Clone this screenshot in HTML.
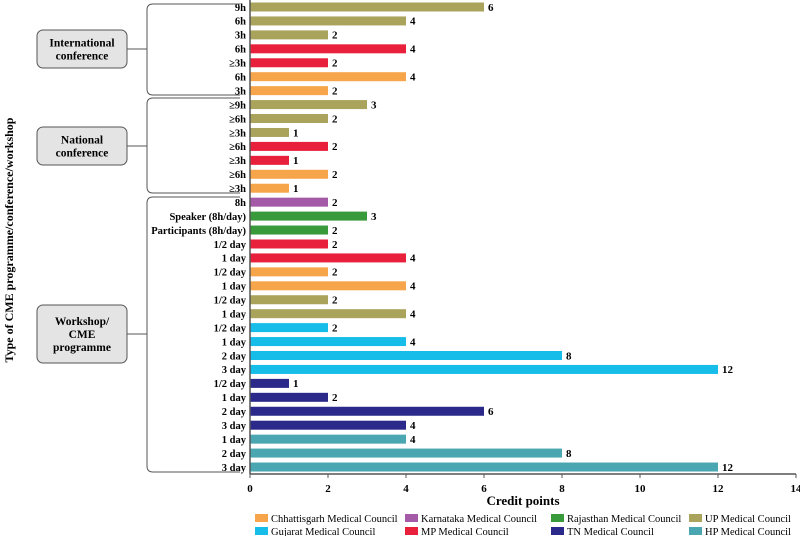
<!DOCTYPE html>
<html><head><meta charset="utf-8">
<style>
body{margin:0;background:#fff;}
svg{display:block;font-family:"Liberation Serif",serif;font-weight:bold;}
</style></head>
<body>
<svg id="chart" width="800" height="536" viewBox="0 0 800 536"></svg>
<script>
const categories=["9h","6h","3h","6h","≥3h","6h","3h","≥9h","≥6h","≥3h","≥6h","≥3h","≥6h","≥3h","8h","Speaker (8h/day)","Participants (8h/day)","1/2 day","1 day","1/2 day","1 day","1/2 day","1 day","1/2 day","1 day","2 day","3 day","1/2 day","1 day","2 day","3 day","1 day","2 day","3 day"];
const values=[6,4,2,4,2,4,2,3,2,1,2,1,2,1,2,3,2,2,4,2,4,2,4,2,4,8,12,1,2,6,4,4,8,12];
const councils=["UP","UP","UP","MP","MP","CH","CH","UP","UP","UP","MP","MP","CH","CH","KA","RJ","RJ","MP","MP","CH","CH","UP","UP","GJ","GJ","GJ","GJ","TN","TN","TN","TN","HP","HP","HP"];
const xTicks=[0,2,4,6,8,10,12,14];
const legendKeys=["CH","KA","RJ","UP","GJ","MP","TN","HP"];
const legendLabels=["Chhattisgarh Medical Council","Karnataka Medical Council","Rajasthan Medical Council","UP Medical Council","Gujarat Medical Council","MP Medical Council","TN Medical Council","HP Medical Council"];
const colors={UP:"#aaa35c",MP:"#e8203c",CH:"#f6a54b",KA:"#a55aa8",RJ:"#399a3c",GJ:"#16bde9",TN:"#2b2a8a",HP:"#4aa7b2"};

const NS="http://www.w3.org/2000/svg";
const svg=document.getElementById('chart');
function mk(tag,attrs,parent){const e=document.createElementNS(NS,tag);for(const k in attrs)e.setAttribute(k,attrs[k]);(parent||svg).appendChild(e);return e;}
const x0=250,xUnit=39,y0=7,rowH=13.94,axisY=474;
const xs=v=>x0+v*xUnit;
const ys=i=>y0+i*rowH;

categories.forEach((c,i)=>{
  const y=ys(i);
  const r=mk('rect',{x:x0,y:y-4.5,width:xs(values[i])-x0,height:9,fill:colors[councils[i]]});
  
  
  const t=mk('text',{x:246,y:y+3.8,'text-anchor':'end','font-size':'10.5'});t.textContent=c;
  
  
  const v=mk('text',{x:xs(values[i])+4,y:y+3.8,'font-size':'11'});v.textContent=values[i];
  
  
});
const ax=mk('line',{x1:x0,y1:axisY,x2:xs(14),y2:axisY,stroke:'#555','stroke-width':1.5});


const ay=mk('line',{x1:x0,y1:0,x2:x0,y2:axisY,stroke:'#555','stroke-width':1.5});


xTicks.forEach(t=>{
  mk('line',{x1:xs(t),y1:axisY,x2:xs(t),y2:axisY+4,stroke:'#555'});
  const l=mk('text',{x:xs(t),y:axisY+18,'text-anchor':'middle','font-size':'11'});l.textContent=t;
  
  
});
const xt=mk('text',{x:523,y:505,'text-anchor':'middle','font-size':'13'});xt.textContent='Credit points';


const yt=mk('text',{x:0,y:0,'text-anchor':'middle','font-size':'12',transform:'translate(13,240) rotate(-90)'});yt.textContent='Type of CME programme/conference/workshop';



const groups=[{n:'international',t:["International","conference"],y1:4,y2:95,by:30,bh:38},{n:'national',t:["National","conference"],y1:98,y2:193,by:127,bh:38},{n:'workshop',t:["Workshop/","CME","programme"],y1:197,y2:472,by:305,bh:58}];
groups.forEach(g=>{
  const bx=147,r=6;
  const p=mk('path',{d:`M240 ${g.y1} H${bx+r} Q${bx} ${g.y1} ${bx} ${g.y1+r} V${g.y2-r} Q${bx} ${g.y2} ${bx+r} ${g.y2} H240`,fill:'none',stroke:'#555','stroke-width':1});
  
  
  const cy=g.by+g.bh/2;
  mk('line',{x1:127,y1:cy,x2:bx,y2:cy,stroke:'#555'});
  const b=mk('rect',{x:37,y:g.by,width:90,height:g.bh,rx:6,fill:'#e4e4e4',stroke:'#555'});
  
  
  const lh=13,start=cy-(g.t.length-1)*lh/2+4;
  g.t.forEach((s,k)=>{const tt=mk('text',{x:82,y:start+k*lh,'text-anchor':'middle','font-size':'11.5'});tt.textContent=s;
    
    });
});

const lx=[255,405,551,689];
legendKeys.forEach((k,i)=>{
  const col=i%4,row=Math.floor(i/4);
  const y=518+row*13;
  const s=mk('rect',{x:lx[col],y:y-4,width:13,height:8,fill:colors[k]});
  
  
  const t=mk('text',{x:lx[col]+16,y:y+4,'font-size':'10.5','font-weight':'normal'});t.textContent=legendLabels[i];
  
  
});
</script>
</body></html>
